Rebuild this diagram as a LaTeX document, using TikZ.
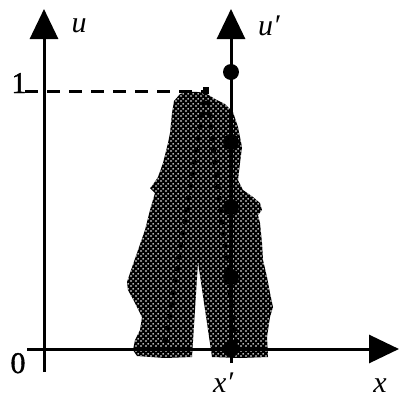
\documentclass[tikz,border=0pt]{standalone}
\usepackage{fontspec}
\setmainfont{Liberation Serif}[AutoFakeBold=1.3]
\usetikzlibrary{arrows.meta,patterns}
\pgfdeclarepatternformonly{halftone}{\pgfqpoint{0pt}{0pt}}{\pgfqpoint{5pt}{5pt}}{\pgfqpoint{5pt}{5pt}}{%
  \pgfpathcircle{\pgfqpoint{1.25pt}{1.25pt}}{1.05pt}%
  \pgfpathcircle{\pgfqpoint{3.75pt}{3.75pt}}{1.05pt}%
  \pgfusepath{fill}}
\tikzset{
  axis/.style={line width=3pt,-{Triangle[length=30pt,width=28pt]}},
  lbl/.style={inner sep=0pt,font=\fontsize{30}{36}\selectfont\bfseries},
  bigdot/.style={circle,fill=black,inner sep=0pt,minimum size=16pt},
  dotline/.style={line width=5.5pt,line cap=round,dash pattern=on 0pt off 12pt},
  dashline/.style={line width=3pt,dash pattern=on 13pt off 9pt},
}
\begin{document}
\begin{tikzpicture}[x=1pt,y=-1pt]
\useasboundingbox (0,0) rectangle (400,397);
\def\blob{(180,94) .. controls (188,91) and (198,91) .. (207,94) -- (215,99) -- (225,104) -- (233,112) -- (238,127) -- (242,147) -- (240,163) -- (238,180) -- (243,190) -- (253,197) -- (260,203) -- (262,210) -- (258,215) -- (260,223) -- (262,243) -- (263,260) -- (267,277) -- (270,293) -- (273,307) -- (270,317) -- (267,337) -- (268,357) -- (240,358) -- (212,357) -- (198,262) -- (192,357) -- (165,358) -- (137,356) -- (133,350) -- (135,340) -- (140,330) -- (142,317) -- (135,303) -- (128,290) -- (127,282) -- (130,273) -- (137,253) -- (145,230) -- (150,210) -- (155,193) -- (150,188) -- (152,186) -- (158,177) -- (163,163) -- (168,143) -- (170,133) -- (172,113) -- (174,101) -- cycle}
% shaded region
\fill[black] \blob;
\fill[pattern=halftone,pattern color=white] \blob;
% dotted lines
\coordinate (t1) at (204,103);
\coordinate (b1) at (164,349);
\coordinate (t2) at (208,103);
\coordinate (b2) at (237,349);
\draw[dotline] (t1) -- (b1);
\draw[dotline] (t2) -- (b2);
% axes
\coordinate (ub) at (44,372);
\coordinate (ut) at (44,9);
\coordinate (xl) at (27,349);
\coordinate (xr) at (399,349);
\coordinate (vb) at (231,363);
\coordinate (vt) at (231,9);
\draw[axis] (ub) -- (ut);
\draw[axis] (xl) -- (xr);
\draw[axis] (vb) -- (vt);
% dashed level line
\coordinate (d1) at (25,91);
\coordinate (d2) at (208,91);
\draw[dashline] (d1) -- (d2);
\fill (203,87) rectangle (209,94);
% dots on u'
\node[bigdot] (p1) at (231,72) {};
\node[bigdot] (p2) at (231,142) {};
\node[bigdot] (p3) at (231,207) {};
\node[bigdot] (p4) at (231,277) {};
\node[bigdot] (p5) at (231,349) {};
% labels
\node[lbl,anchor=base] (lu) at (79,32) {\textit{u}};
\node[lbl,anchor=base west] (lup) at (258,35) {\textit{u′}};
\node[lbl,anchor=base] (l1) at (19,93) {1};
\node[lbl,anchor=base] (l0) at (18,373) {0};
\node[lbl,anchor=base west] (lxp) at (213,392) {\textit{x′}};
\node[lbl,anchor=base] (lx) at (380,392) {\textit{x}};
\end{tikzpicture}
\end{document}
